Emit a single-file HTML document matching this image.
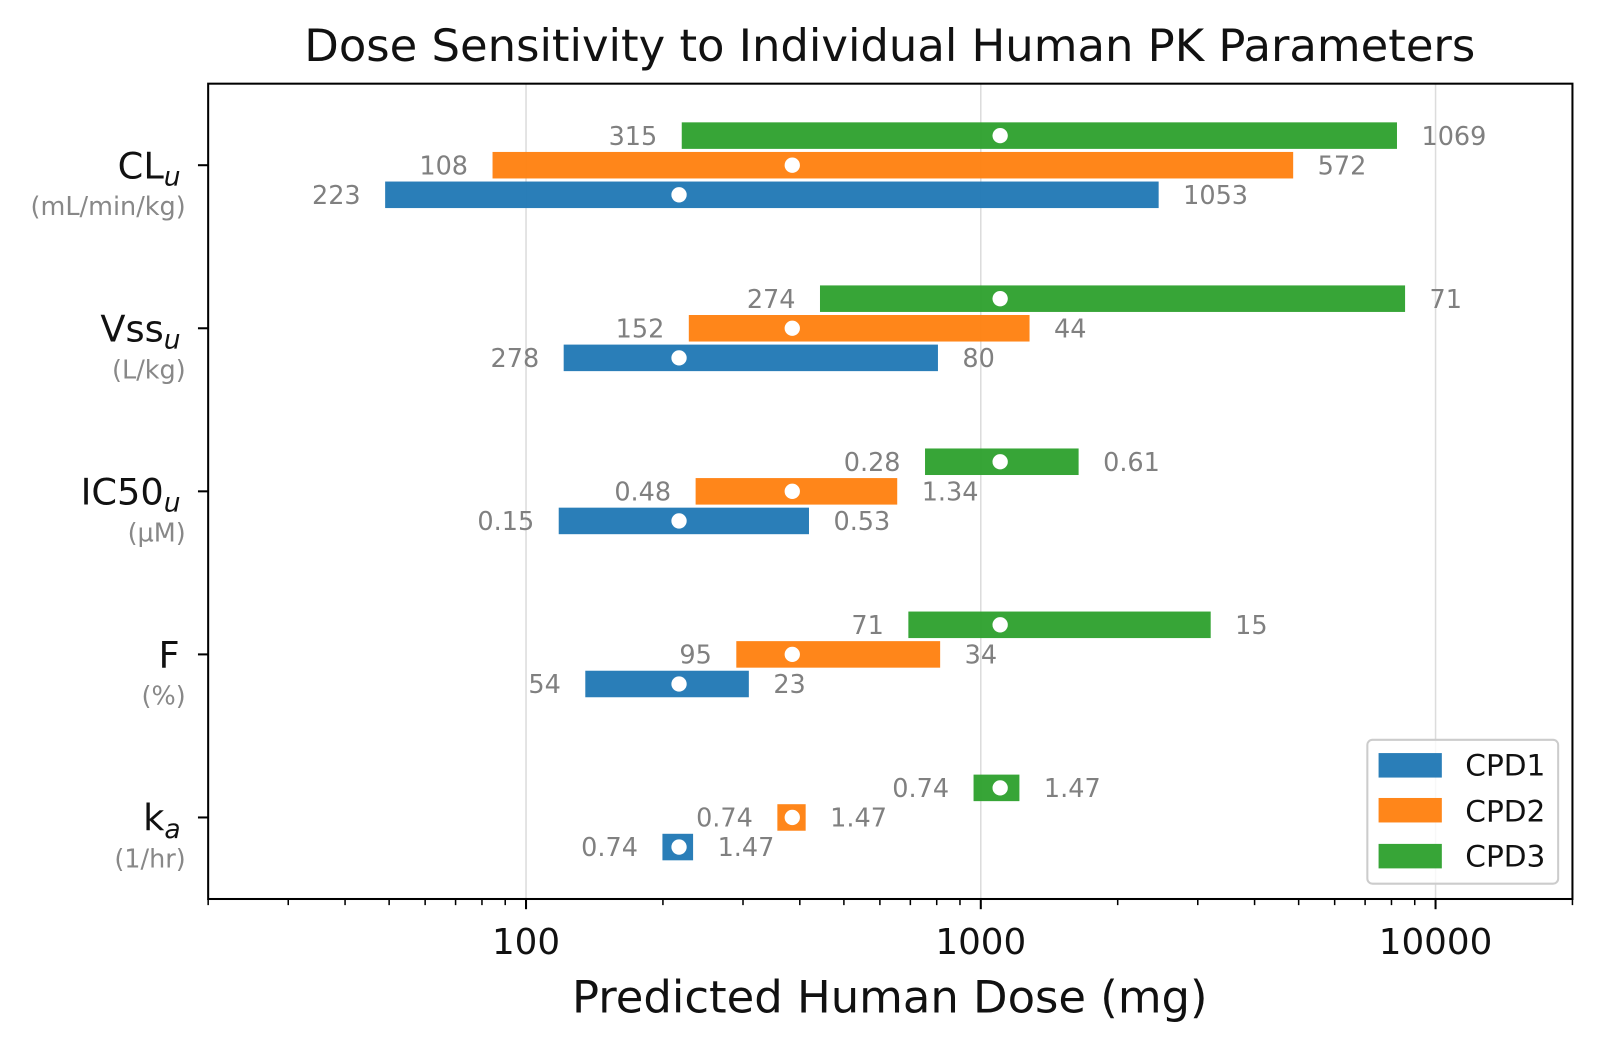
<!DOCTYPE html>
<html><head><meta charset="utf-8"><style>
html,body{margin:0;padding:0;background:#fff;}
svg{display:block;font-family:"DejaVu Sans","Liberation Sans",sans-serif;}
</style></head><body>
<svg id="chart" width="1600" height="1049" viewBox="0 0 1568 1028" preserveAspectRatio="none" xmlns="http://www.w3.org/2000/svg">
<rect width="1568" height="1028" fill="#fff"/>
<text x="872" y="60" font-size="44" text-anchor="middle" fill="#111">Dose Sensitivity to Individual Human PK Parameters</text>
<g id="grid"></g>
<g id="bars"></g>
<rect x="204" y="82" width="1337" height="799" fill="none" stroke="#000" stroke-width="2"/>
<g id="axes"></g>
<text x="872" y="992" font-size="44" text-anchor="middle" fill="#111">Predicted Human Dose (mg)</text>
<g id="legend">
<rect x="1340" y="725" width="187" height="141" rx="5" fill="#fff" fill-opacity="0.8" stroke="#ccc" stroke-width="2"/>
<rect x="1351" y="738" width="62" height="24" fill="#1f77b4" fill-opacity="0.95"/>
<text x="1436" y="760" font-size="29" fill="#111">CPD1</text>
<rect x="1351" y="782" width="62" height="24" fill="#ff7f0e" fill-opacity="0.95"/>
<text x="1436" y="805" font-size="29" fill="#111">CPD2</text>
<rect x="1351" y="827" width="62" height="24" fill="#2ca02c" fill-opacity="0.95"/>
<text x="1436" y="849" font-size="29" fill="#111">CPD3</text>
</g>
</svg>
<script>
const categories = ["CLu","Vssu","IC50u","F","ka"];
const catMain = ["CL","Vss","IC50","F","k"];
const catSub = ["u","u","u","","a"];
const catUnits = ["(mL/min/kg)","(L/kg)","(\u00b5M)","(%)","(1/hr)"];
const compounds = ["CPD1","CPD2","CPD3"];
const colors = ["#1f77b4","#ff7f0e","#2ca02c"];
const baseDose = [217, 385, 1103];
const cpd1Low = [49, 121, 118, 135, 199.5];
const cpd1High = [2461, 805, 419, 309, 233];
const cpd2Low = [84.4, 228, 236, 290, 357];
const cpd2High = [4863, 1280, 655, 814, 412];
const cpd3Low = [220, 443, 754, 693, 964];
const cpd3High = [8226, 8570, 1641, 3203, 1216];
const cpd1LowLabel = ["223","278","0.15","54","0.74"];
const cpd1HighLabel = ["1053","80","0.53","23","1.47"];
const cpd2LowLabel = ["108","152","0.48","95","0.74"];
const cpd2HighLabel = ["572","44","1.34","34","1.47"];
const cpd3LowLabel = ["315","274","0.28","71","0.74"];
const cpd3HighLabel = ["1069","71","0.61","15","1.47"];
const xTicks = [100, 1000, 10000];
const xTickLabels = ["100","1000","10000"];

const NS = "http://www.w3.org/2000/svg";
const L=204, R=1541, T=82, B=881;
const xMin=20, xMax=20000;
function xs(v){ return L + (Math.log10(v)-Math.log10(xMin))/(Math.log10(xMax)-Math.log10(xMin))*(R-L); }
function ys(i){ return T + (i+0.5)/5*(B-T); }
function mk(tag, attrs, parent, text){
  const e=document.createElementNS(NS,tag);
  for(const k in attrs) e.setAttribute(k, attrs[k]);
  if(text!==undefined) e.textContent=text;
  parent.appendChild(e); return e;
}
const grid=document.getElementById("grid"), bars=document.getElementById("bars"), axes=document.getElementById("axes");
xTicks.forEach((t,i)=>{
  const g=mk("line",{x1:xs(t),x2:xs(t),y1:T,y2:B,stroke:"#dcdcdc","stroke-width":1.5},grid);
  
  
  const tk=mk("line",{x1:xs(t),x2:xs(t),y1:B,y2:B+10,stroke:"#000","stroke-width":2},axes);
  
  
  const lb=mk("text",{x:xs(t),y:B+54,"font-size":35,"text-anchor":"middle",fill:"#111"},axes,xTickLabels[i]);
  
  
});
for(let d=10; d<=10000; d*=10){
  for(let m=2;m<=9;m++){
    const v=d*m; if(v<xMin||v>xMax) continue;
    const tk=mk("line",{x1:xs(v),x2:xs(v),y1:B,y2:B+6,stroke:"#000","stroke-width":1.5},axes);
    
    
  }
}
categories.forEach((c,i)=>{
  const y=ys(i);
  const tk=mk("line",{x1:L-10,x2:L,y1:y,y2:y,stroke:"#000","stroke-width":2},axes);
  
  
  const t=mk("text",{x:catSub[i]?177:176,y:y+13,"font-size":36,"text-anchor":"end",fill:"#111"},axes);
  
  
  mk("tspan",{},t,catMain[i]);
  if(catSub[i]) mk("tspan",{"font-size":26,"font-style":"italic",dy:7},t,catSub[i]);
  const u=mk("text",{x:182,y:y+49,"font-size":25,"text-anchor":"end",fill:"#888"},axes,catUnits[i]);
  
  
});
const lows=[cpd1Low,cpd2Low,cpd3Low], highs=[cpd1High,cpd2High,cpd3High];
const lowL=[cpd1LowLabel,cpd2LowLabel,cpd3LowLabel], highL=[cpd1HighLabel,cpd2HighLabel,cpd3HighLabel];
const offs=[29,0,-29];
categories.forEach((c,i)=>{
  for(let k=0;k<3;k++){
    const yc=ys(i)+offs[k];
    const x1=xs(lows[k][i]), x2=xs(highs[k][i]);
    const r=mk("rect",{x:x1,y:yc-13,width:x2-x1,height:26,fill:colors[k],"fill-opacity":0.95},bars);
    
    
    const p=mk("circle",{cx:xs(baseDose[k]),cy:yc,r:7.5,fill:"#fff"},bars);
    
    
    const a=mk("text",{x:x1-24,y:yc+9,"font-size":25,"text-anchor":"end",fill:"#808080"},bars,lowL[k][i]);
    
    
    const b=mk("text",{x:x2+24,y:yc+9,"font-size":25,"text-anchor":"start",fill:"#808080"},bars,highL[k][i]);
    
    
  }
});
</script>
</body></html>
